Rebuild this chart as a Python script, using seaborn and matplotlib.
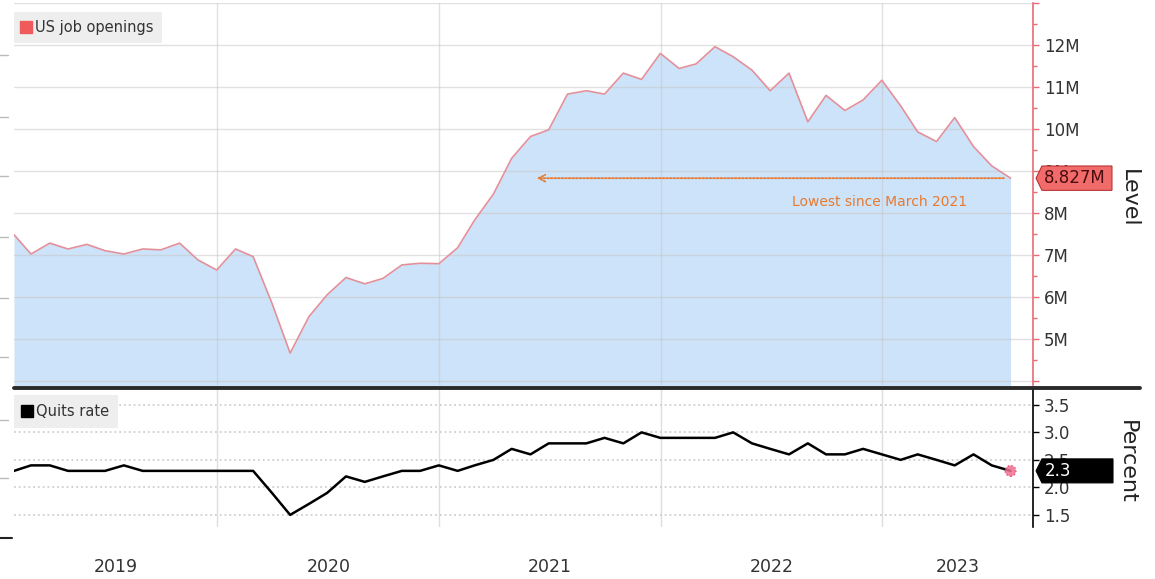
import numpy as np
import pandas as pd
import matplotlib
matplotlib.use("Agg")
import matplotlib.pyplot as plt
import matplotlib.transforms as mtransforms
from matplotlib.lines import Line2D
from matplotlib.patches import Polygon
import seaborn as sns

# Monthly data Jan 2019 - Jul 2023
months = pd.date_range("2019-01-01", periods=55, freq="MS") + pd.offsets.MonthEnd(0)

# US job openings, millions
openings = [
    7.48, 7.02, 7.28, 7.14, 7.25, 7.10, 7.02, 7.14, 7.12, 7.28, 6.88, 6.64,
    7.14, 6.96, 5.85, 4.66, 5.53, 6.05, 6.46, 6.31, 6.44, 6.76, 6.80, 6.79,
    7.17, 7.83, 8.45, 9.30, 9.82, 9.98, 10.83, 10.91, 10.83, 11.33, 11.18, 11.80,
    11.44, 11.55, 11.96, 11.72, 11.40, 10.91, 11.33, 10.17, 10.80, 10.44, 10.69, 11.16,
    10.55, 9.93, 9.70, 10.27, 9.58, 9.12, 8.827,
]

# Quits rate, percent
quits = [
    2.3, 2.4, 2.4, 2.3, 2.3, 2.3, 2.4, 2.3, 2.3, 2.3, 2.3, 2.3,
    2.3, 2.3, 1.9, 1.5, 1.7, 1.9, 2.2, 2.1, 2.2, 2.3, 2.3, 2.4,
    2.3, 2.4, 2.5, 2.7, 2.6, 2.8, 2.8, 2.8, 2.9, 2.8, 3.0, 2.9,
    2.9, 2.9, 2.9, 3.0, 2.8, 2.7, 2.6, 2.8, 2.6, 2.6, 2.7, 2.6,
    2.5, 2.6, 2.5, 2.4, 2.6, 2.4, 2.3,
]

years = ["2019", "2020", "2021", "2022", "2023"]
level_ticks = list(range(4, 14))
level_labels = [""] + [f"{v}M" for v in range(5, 13)] + [""]
pct_ticks = [1.5, 2.0, 2.5, 3.0, 3.5]

df = pd.DataFrame({"date": months, "openings": openings, "quits": quits})

# colours
fill_c = "#cde3f9"
line_c = "#e4909b"
red_c = "#e66b76"
orange_c = "#e87a30"
text_c = "#333333"

sns.set_theme(style="white")
plt.rcParams["font.family"] = ["DejaVu Sans"]

W, H = 1155, 579
fig = plt.figure(figsize=(W / 100, H / 100), dpi=100, facecolor="white")


def px_box(x0, y0, x1, y1):
    return [x0 / W, 1 - y1 / H, (x1 - x0) / W, (y1 - y0) / H]


ax1 = fig.add_axes(px_box(14, 3, 1033, 385))
ax2 = fig.add_axes(px_box(14, 390, 1033, 527), sharex=ax1)

x_left = pd.Timestamp("2019-01-31")
x_right = pd.Timestamp("2023-09-06")
year_starts = [pd.Timestamp(f"{y}-01-01") for y in years[1:]]
bounds = [x_left] + year_starts + [x_right]
centers = [bounds[i] + (bounds[i + 1] - bounds[i]) / 2 for i in range(len(years))]

# ---- top panel: job openings ----
ax1.fill_between(df["date"], df["openings"], 0, color=fill_c, lw=0, zorder=1)
sns.lineplot(data=df, x="date", y="openings", ax=ax1, color=line_c, lw=1.2, zorder=3)
ax1.set_ylim(3.9, 13.0)
ax1.set_axisbelow("line")
ax1.yaxis.tick_right()
ax1.set_yticks(level_ticks)
ax1.set_yticklabels(level_labels)
ax1.set_yticks(np.arange(4.5, 13, 1), minor=True)
ax1.grid(axis="y", which="major", color="#c4c4c4", alpha=0.5, lw=1)
ax1.grid(axis="x", which="major", color="#c4c4c4", alpha=0.5, lw=1)
ax1.tick_params(axis="y", which="major", length=4, width=1, color=red_c,
                labelcolor=text_c, labelsize=12, pad=4)
ax1.tick_params(axis="y", which="minor", length=3, width=1, color=red_c)
ax1.tick_params(axis="x", which="both", length=0, labelbottom=False)
for s in ["top", "left", "bottom"]:
    ax1.spines[s].set_visible(False)
ax1.spines["right"].set_color(red_c)
ax1.spines["right"].set_linewidth(1.2)
ax1.set_xlabel("")
ax1.set_ylabel("")

# last value tag
tr1 = mtransforms.blended_transform_factory(ax1.transAxes, ax1.transData)
v = openings[-1]
ax1.add_patch(Polygon([[1.003, v], [1.0088, v + 0.29], [1.0775, v + 0.29],
                       [1.0775, v - 0.29], [1.0088, v - 0.29]],
                      closed=True, transform=tr1, clip_on=False,
                      fc="#f26b6b", ec="#b83232", lw=0.8, zorder=10))
ax1.text(1.011, v, f"{v:.3f}M", transform=tr1, ha="left", va="center",
         fontsize=12, color="#4a0c0c", zorder=11, clip_on=False)

# annotation
ax1.annotate("", xy=(pd.Timestamp("2021-06-10"), v), xytext=(pd.Timestamp("2023-07-20"), v),
             arrowprops=dict(arrowstyle="->", color=orange_c, lw=1.3,
                             linestyle=(0, (1, 1)), shrinkA=0, shrinkB=0), zorder=6)
ax1.text(0.849, 0.479, "Lowest since March 2021", transform=ax1.transAxes,
         ha="center", va="center", color=orange_c, fontsize=10)

h1 = Line2D([], [], marker="s", ls="none", color="#f05a5a", markersize=8)
leg1 = ax1.legend([h1], ["US job openings"], loc="upper left",
                  bbox_to_anchor=(0, 1 - 9 / 382), borderaxespad=0, frameon=True,
                  fancybox=False, handlelength=0.6, handletextpad=0.3,
                  borderpad=0.55, fontsize=10.5)
leg1.get_frame().set_facecolor("#eeeeee")
leg1.get_frame().set_edgecolor("none")
leg1.get_frame().set_alpha(1)
leg1.get_texts()[0].set_color(text_c)

# ---- bottom panel: quits rate ----
sns.lineplot(data=df, x="date", y="quits", ax=ax2, color="black", lw=1.8, zorder=3)
ax2.scatter([df["date"].iloc[-1]], [df["quits"].iloc[-1]], s=60, color="#f0708f",
            edgecolors="#e0406a", linewidths=1, linestyle=":", zorder=5, alpha=0.85)
ax2.set_ylim(1.28, 3.77)
ax2.yaxis.tick_right()
ax2.set_yticks(pct_ticks)
ax2.set_yticklabels([f"{t:.1f}" for t in pct_ticks])
ax2.grid(axis="y", which="major", color="#cfcfcf", ls=":", lw=1.3)
ax2.grid(axis="x", which="major", color="#dedede", lw=1)
ax2.tick_params(axis="y", which="major", length=4, width=1, color="black",
                labelcolor=text_c, labelsize=12, pad=4)
ax2.set_xticks(year_starts, labels=[""] * len(year_starts))
ax2.set_xticks(centers, labels=years, minor=True)
ax2.tick_params(axis="x", which="both", length=0)
ax2.tick_params(axis="x", which="minor", pad=22, labelsize=12.5, labelcolor=text_c)
ax1.tick_params(axis="x", which="both", labelbottom=False)
ax2.set_xlim(x_left, x_right)
for s in ["top", "left", "bottom"]:
    ax2.spines[s].set_visible(False)
ax2.spines["right"].set_color("black")
ax2.spines["right"].set_linewidth(1.2)
ax2.set_xlabel("")
ax2.set_ylabel("")

tr2 = mtransforms.blended_transform_factory(ax2.transAxes, ax2.transData)
q = quits[-1]
ax2.add_patch(Polygon([[1.003, q], [1.0088, q + 0.218], [1.0785, q + 0.218],
                       [1.0785, q - 0.218], [1.0088, q - 0.218]],
                      closed=True, transform=tr2, clip_on=False,
                      fc="black", ec="black", lw=0.8, zorder=10))
ax2.text(1.0115, q, f"{q:.1f}", transform=tr2, ha="left", va="center",
         fontsize=12, color="white", zorder=11, clip_on=False)

h2 = Line2D([], [], marker="s", ls="none", color="black", markersize=8)
leg2 = ax2.legend([h2], ["Quits rate"], loc="upper left",
                  bbox_to_anchor=(0, 1 - 5 / 137), borderaxespad=0, frameon=True,
                  fancybox=False, handlelength=0.6, handletextpad=0.3,
                  borderpad=0.6, fontsize=10.5)
leg2.get_frame().set_facecolor("#eeeeee")
leg2.get_frame().set_edgecolor("none")
leg2.get_frame().set_alpha(1)
leg2.get_texts()[0].set_color(text_c)

# separator and axis titles
fig.add_artist(Line2D([14 / W, 1140 / W], [1 - 387.5 / H] * 2, color="#2a2a2a",
                      lw=2.8, transform=fig.transFigure))
fig.text(1129 / W, 1 - 198 / H, "Level", rotation=-90, ha="center", va="center",
         fontsize=16, color="#222222")
fig.text(1127 / W, 1 - 462 / H, "Percent", rotation=-90, ha="center", va="center",
         fontsize=16, color="#222222")

# small marks on the left edge
for yy in [55, 117, 176, 237, 298, 357, 420, 478]:
    fig.add_artist(Line2D([0, 8 / W], [1 - yy / H] * 2, color="#bbbbbb", lw=1,
                          transform=fig.transFigure))
fig.add_artist(Line2D([0, 12 / W], [1 - 538 / H] * 2, color="#222222", lw=1.5,
                      transform=fig.transFigure))

fig.savefig("out.png", dpi=100, facecolor="white")
